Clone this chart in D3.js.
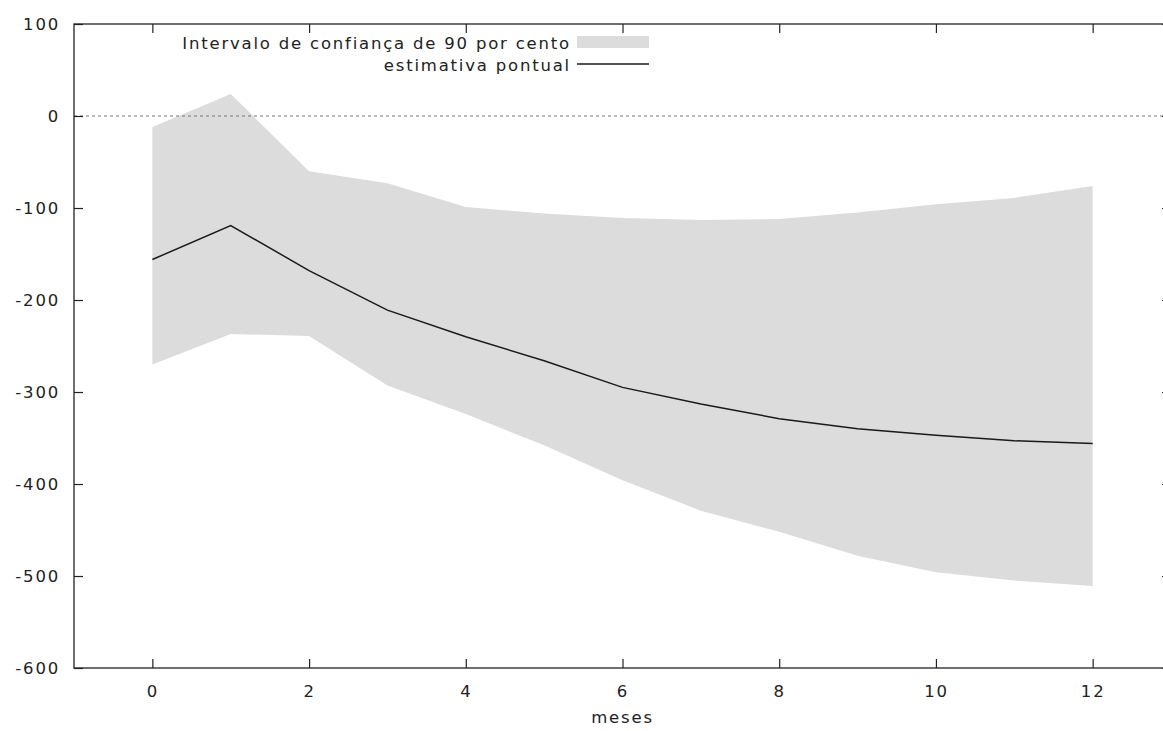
<!DOCTYPE html>
<html>
<head>
<meta charset="utf-8">
<script src="https://cdn.jsdelivr.net/npm/d3@7"></script>
<style>
  body { margin: 0; background: #fff; }
  text { font-family: "DejaVu Sans", Verdana, sans-serif; fill: #222; }
</style>
</head>
<body>
<div id="chart"></div>
<script>
// months after the shock
var months = [0, 1, 2, 3, 4, 5, 6, 7, 8, 9, 10, 11, 12];
var estimate = [-156, -119, -168, -211, -240, -266, -295, -313, -329, -340, -347, -353, -356];
var upper = [-12, 24, -60, -73, -99, -106, -111, -113, -112, -105, -96, -89, -76];
var lower = [-270, -237, -239, -293, -324, -358, -396, -429, -452, -478, -496, -505, -511];
var xTicks = [0, 2, 4, 6, 8, 10, 12];
var yTicks = [100, 0, -100, -200, -300, -400, -500, -600];
var legendLabels = ["Intervalo de confiança de 90 por cento", "estimativa pontual"];

var W = 1163, H = 731;
var pLeft = 74, pRight = 1171, pTop = 24, pBottom = 668;
var fontSize = "16.5px", spacing = "1.8px";

var svg = d3.select("#chart").append("svg")
  .attr("width", W).attr("height", H);

var x = d3.scaleLinear().domain([-1, 13]).range([pLeft, pRight]);
var y = d3.scaleLinear().domain([-600, 100]).range([pBottom, pTop]);

var rows = months.map(function(m, i) {
  return { m: m, est: estimate[i], lo: lower[i], hi: upper[i] };
});

// band
svg.append("path")
  .datum(rows)
  .attr("fill", "#dcdcdc")
  .attr("d", d3.area()
    .x(function(d) { return x(d.m); })
    .y0(function(d) { return y(d.lo); })
    .y1(function(d) { return y(d.hi); }));

// zero line
svg.append("line")
  .attr("x1", pLeft).attr("x2", pRight)
  .attr("y1", y(0)).attr("y2", y(0))
  .attr("stroke", "#777").attr("stroke-width", 1)
  .attr("stroke-dasharray", "3,3");

// point estimate
svg.append("path")
  .datum(rows)
  .attr("fill", "none")
  .attr("stroke", "#1a1a1a")
  .attr("stroke-width", 1.5)
  .attr("d", d3.line()
    .x(function(d) { return x(d.m); })
    .y(function(d) { return y(d.est); }));

// plain hyphen for negatives, like the original
var plain = function(d) { return String(d); };

function cleanAxis(g) {
  g.select(".domain").remove();
  g.selectAll(".tick line").attr("stroke", "#222").attr("stroke-width", 1.2);
  g.selectAll(".tick text")
    .style("font-family", "'DejaVu Sans', Verdana, sans-serif")
    .style("font-size", fontSize)
    .style("letter-spacing", spacing)
    .attr("fill", "#222");
}

svg.append("g")
  .attr("transform", "translate(" + pLeft + ",0)")
  .call(d3.axisLeft(y).tickValues(yTicks).tickFormat(plain).tickSizeInner(-9).tickSizeOuter(0).tickPadding(14))
  .call(cleanAxis);

svg.append("g")
  .attr("transform", "translate(0," + pBottom + ")")
  .call(d3.axisBottom(x).tickValues(xTicks).tickFormat(plain).tickSizeInner(-9).tickSizeOuter(0).tickPadding(17))
  .call(cleanAxis);

svg.append("g")
  .attr("transform", "translate(0," + pTop + ")")
  .call(d3.axisTop(x).tickValues(xTicks).tickSizeInner(-9).tickSizeOuter(0).tickFormat(""))
  .call(cleanAxis);

svg.append("g")
  .attr("transform", "translate(" + pRight + ",0)")
  .call(d3.axisRight(y).tickValues(yTicks).tickSizeInner(-9).tickSizeOuter(0).tickFormat(""))
  .call(cleanAxis);

// frame
svg.append("rect")
  .attr("x", pLeft).attr("y", pTop)
  .attr("width", pRight - pLeft).attr("height", pBottom - pTop)
  .attr("fill", "none").attr("stroke", "#222").attr("stroke-width", 1.3);

// x label
svg.append("text")
  .attr("x", x(6)).attr("y", 723)
  .attr("text-anchor", "middle")
  .style("font-size", fontSize).style("letter-spacing", spacing)
  .text("meses");

// legend
var legend = svg.append("g");
legend.append("text")
  .attr("x", 571).attr("y", 49)
  .attr("text-anchor", "end")
  .style("font-size", fontSize).style("letter-spacing", spacing)
  .text(legendLabels[0]);
legend.append("rect")
  .attr("x", 577).attr("y", 36).attr("width", 72).attr("height", 12)
  .attr("fill", "#dcdcdc");
legend.append("text")
  .attr("x", 571).attr("y", 71)
  .attr("text-anchor", "end")
  .style("font-size", fontSize).style("letter-spacing", spacing)
  .text(legendLabels[1]);
legend.append("line")
  .attr("x1", 577).attr("x2", 649).attr("y1", 64).attr("y2", 64)
  .attr("stroke", "#1a1a1a").attr("stroke-width", 1.5);
</script>
</body>
</html>
